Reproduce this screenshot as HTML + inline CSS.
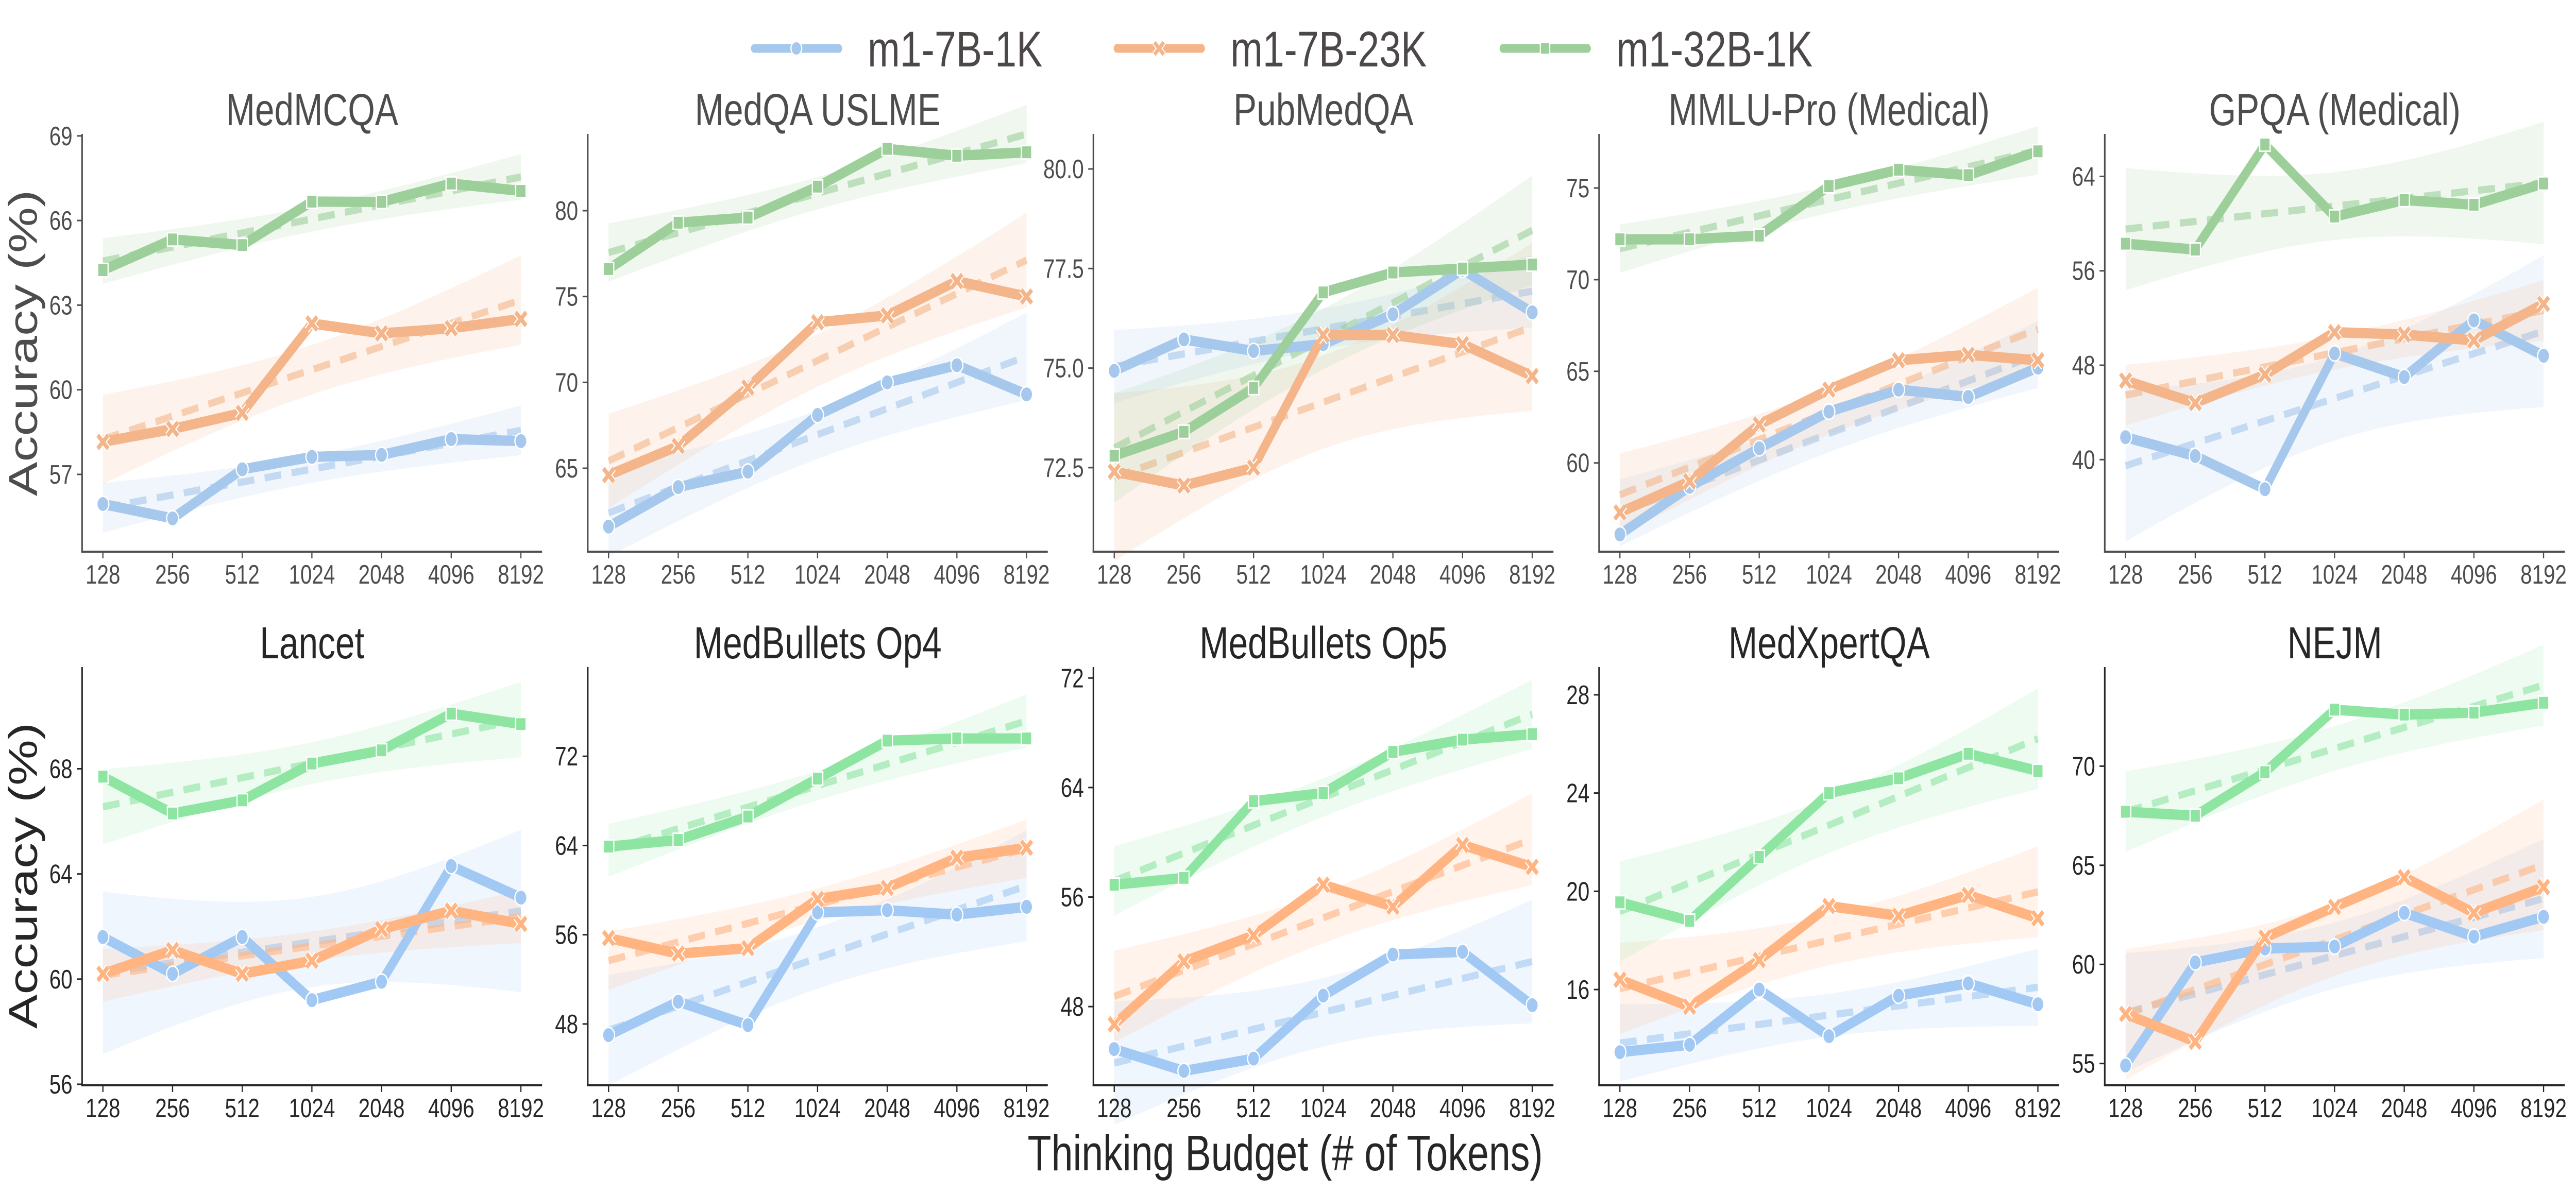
<!DOCTYPE html>
<html><head><meta charset="utf-8"><style>
html,body{margin:0;padding:0;background:#fff;overflow:hidden;width:100%;height:100%;}
svg{display:block;font-family:"Liberation Sans",Arial,sans-serif;width:100vw;height:100vh;}
</style></head><body>
<svg id="chart" xmlns="http://www.w3.org/2000/svg" viewBox="0 0 6434 2318" preserveAspectRatio="none">
<g id="legend"></g>
<g id="panels"></g>
<text x="3210" y="2272" font-size="97" text-anchor="middle" fill="#262626">Thinking Budget (# of Tokens)</text>
<text transform="translate(92,666) rotate(-90)" font-size="100" text-anchor="middle" fill="#4d4d4d">Accuracy (%)</text>
<text transform="translate(92,1700) rotate(-90)" font-size="100" text-anchor="middle" fill="#262626">Accuracy (%)</text>
</svg>
<script>
const budgets = ["128","256","512","1024","2048","4096","8192"];
const seriesNames = ["m1-7B-1K","m1-7B-23K","m1-32B-1K"];
const panelTitles = ["MedMCQA","MedQA USLME","PubMedQA","MMLU-Pro (Medical)","GPQA (Medical)","Lancet","MedBullets Op4","MedBullets Op5","MedXpertQA","NEJM"];
const yTicks = [[57,60,63,66,69],[65,70,75,80],[72.5,75,77.5,80],[60,65,70,75],[40,48,56,64],[56,60,64,68],[48,56,64,72],[48,56,64,72],[16,20,24,28],[55,60,65,70]];
const yTickLabels = [["57","60","63","66","69"],["65","70","75","80"],["72.5","75.0","77.5","80.0"],["60","65","70","75"],["40","48","56","64"],["56","60","64","68"],["48","56","64","72"],["48","56","64","72"],["16","20","24","28"],["55","60","65","70"]];
const yLimits = [[54.26,69.07],[60.14,84.47],[70.39,80.88],[55.16,77.95],[32.2,67.6],[55.96,71.87],[42.5,80],[42.25,72.8],[12.1,29.13],[53.9,75.0]];
const blue7B1K = [
 [55.95,55.44,57.18,57.62,57.69,58.25,58.18],
 [61.6,63.9,64.8,68.1,70.0,71.0,69.3],
 [74.93,75.72,75.43,75.6,76.35,77.47,76.4],
 [56.1,58.7,60.8,62.8,64.0,63.6,65.2],
 [41.9,40.3,37.5,49.0,47.0,51.8,48.8],
 [61.6,60.2,61.6,59.2,59.9,64.3,63.1],
 [47.0,50.0,47.9,58.0,58.2,57.8,58.5],
 [44.9,43.3,44.2,48.8,51.8,52.0,48.1],
 [13.45,13.75,16.0,14.1,15.75,16.25,15.4],
 [54.9,60.1,60.8,60.9,62.6,61.4,62.4]];
const orange7B23K = [
 [58.15,58.61,59.18,62.35,62.0,62.18,62.51],
 [64.6,66.3,69.7,73.5,73.9,75.9,75.0],
 [72.4,72.05,72.5,75.83,75.83,75.6,74.8],
 [57.3,59.0,62.1,64.0,65.6,65.9,65.6],
 [46.7,44.8,47.2,50.8,50.6,50.1,53.2],
 [60.2,61.1,60.2,60.7,61.9,62.6,62.1],
 [55.7,54.3,54.8,59.2,60.2,62.9,63.8],
 [46.7,51.3,53.2,56.9,55.3,59.8,58.2],
 [16.4,15.3,17.2,19.4,19.0,19.85,18.9],
 [57.5,56.1,61.35,62.9,64.4,62.6,63.9]];
const green32B1K = [
 [64.24,65.33,65.13,66.67,66.66,67.31,67.05],
 [76.6,79.3,79.6,81.4,83.6,83.2,83.4],
 [72.8,73.4,74.5,76.9,77.4,77.5,77.6],
 [72.2,72.2,72.4,75.1,76.0,75.7,77.0],
 [58.3,57.8,66.7,60.6,62.0,61.6,63.4],
 [67.7,66.3,66.8,68.2,68.7,70.1,69.7],
 [63.9,64.5,66.6,70.0,73.4,73.6,73.6],
 [56.9,57.4,63.0,63.6,66.6,67.5,67.9],
 [19.55,18.8,21.4,24.0,24.6,25.6,24.9],
 [67.7,67.5,69.7,72.85,72.6,72.7,73.2]];

const NS = "http://www.w3.org/2000/svg";
const colorsTop = ["#a6c8ec","#f5b58a","#9ccf9a"];
const colorsBot = ["#a1c9f4","#ffb482","#8de5a1"];
const markers = ["circle","x","square"];
function mk(tag, attrs, parent){
  const e = document.createElementNS(NS, tag);
  for (const k in attrs) e.setAttribute(k, attrs[k]);
  if (parent) parent.appendChild(e);
  return e;
}
function drawMarker(g, type, x, y, color, scale){
  const s = scale || 1;
  if (type === "circle") {
    const m = mk("circle", {cx:x, cy:y, r:15*s, fill:color, stroke:"#fff", "stroke-width":3}, g);
    
    
  } else if (type === "square") {
    const m = mk("rect", {x:x-13*s, y:y-13*s, width:26*s, height:26*s, fill:color, stroke:"#fff", "stroke-width":3}, g);
    
    
  } else {
    const d = 13*s;
    const p = `M${x-d},${y-d}L${x+d},${y+d}M${x-d},${y+d}L${x+d},${y-d}`;
    const w = mk("path", {d:p, stroke:"#fff", "stroke-width":14*s, fill:"none"}, g);
    
    
    const m = mk("path", {d:p, stroke:color, "stroke-width":9*s, fill:"none"}, g);
    
    
  }
}
const legend = document.getElementById("legend");
const legX = [1884, 2790, 3754];
seriesNames.forEach((nm, i) => {
  const g = mk("g", {}, legend);
  
  
  const l = mk("line", {x1:legX[i], y1:94, x2:legX[i]+211, y2:94, stroke:colorsTop[i], "stroke-width":17, "stroke-linecap":"round"}, g);
  
  
  drawMarker(g, markers[i], legX[i]+105, 94, colorsTop[i], 0.9);
  const t = mk("text", {x:legX[i]+283, y:129, "font-size":97, fill:"#4d4848"}, g);
  t.textContent = nm;
  
  
});

function regress(vals){
  const n = vals.length; const xs = vals.map((_, i) => i);
  const xb = xs.reduce((a,b)=>a+b)/n, yb = vals.reduce((a,b)=>a+b)/n;
  let sxx=0, sxy=0; xs.forEach((x,i)=>{sxx+=(x-xb)**2; sxy+=(x-xb)*(vals[i]-yb);});
  const b = sxy/sxx, a = yb - b*xb;
  let sse=0; xs.forEach((x,i)=>{sse+=(vals[i]-(a+b*x))**2;});
  const se = Math.sqrt(sse/(n-2));
  return {a, b, xb, sxx, se, n};
}

const panelsG = document.getElementById("panels");
for (let p = 0; p < 10; p++) {
  const row = Math.floor(p/5), col = p%5;
  const left = 205 + col*1263, right = left + 1149;
  const top = row ? 1295 : 260, bottom = row ? 2107 : 1071;
  const txtCol = row ? "#262626" : "#4d4d4d";
  const axCol = row ? "#262626" : "#4d4d4d";
  const colors = row ? colorsBot : colorsTop;
  const [y0, y1] = yLimits[p];
  const X = i => left + 52 + i*174;
  const Y = v => bottom - (v - y0)/(y1 - y0)*(bottom - top);
  const g = mk("g", {}, panelsG);
  
  
  const t = mk("text", {x:(left+right)/2, y:top-17, "font-size":87, "text-anchor":"middle", fill:txtCol}, g);
  t.textContent = panelTitles[p];
  
  
  const data = [blue7B1K[p], orange7B23K[p], green32B1K[p]];
  data.forEach((vals, s) => {
    const r = regress(vals);
    const tq = 2.57;
    let up = "", lo = [];
    for (let k = 0; k <= 60; k++) {
      const xi = k*6/60;
      const yh = r.a + r.b*xi;
      const h = tq*r.se*Math.sqrt(1/r.n + (xi-r.xb)**2/r.sxx);
      const px = left + 52 + xi*174;
      up += (k ? "L" : "M") + px.toFixed(1) + "," + Y(yh+h).toFixed(1);
      lo.push(px.toFixed(1) + "," + Y(yh-h).toFixed(1));
    }
    const band = mk("path", {d: up + "L" + lo.reverse().join("L") + "Z", fill:colors[s], "fill-opacity":0.16}, g);
    
    
    const tr = mk("line", {x1:X(0), y1:Y(r.a), x2:X(6), y2:Y(r.a+r.b*6), stroke:colors[s], "stroke-width":14, "stroke-opacity":0.6, "stroke-dasharray":"42 26"}, g);
    
    
  });
  data.forEach((vals, s) => {
    const sg = mk("g", {}, g);
    
    
    const pts = vals.map((v,i) => X(i).toFixed(1) + "," + Y(v).toFixed(1)).join(" ");
    const pl = mk("polyline", {points:pts, fill:"none", stroke:colors[s], "stroke-width":20, "stroke-linejoin":"round"}, sg);
    
    
    vals.forEach((v,i) => drawMarker(sg, markers[s], X(i), Y(v), colors[s], 1));
  });
  const ya = mk("line", {x1:left, y1:top, x2:left, y2:bottom+2, stroke:axCol, "stroke-width":4}, g);
  
  
  const xa = mk("line", {x1:left-2, y1:bottom, x2:right, y2:bottom, stroke:axCol, "stroke-width":4}, g);
  
  
  yTicks[p].forEach((v, k) => {
    const yy = Y(v);
    const tk = mk("line", {x1:left-13, y1:yy, x2:left, y2:yy, stroke:axCol, "stroke-width":3}, g);
    
    
    const tl = mk("text", {x:left-24, y:yy+18, "font-size":52, "text-anchor":"end", fill:txtCol}, g);
    tl.textContent = yTickLabels[p][k];
    
    
  });
  budgets.forEach((b, i) => {
    const tk = mk("line", {x1:X(i), y1:bottom, x2:X(i), y2:bottom+13, stroke:axCol, "stroke-width":3}, g);
    
    
    const tl = mk("text", {x:X(i), y:bottom+62, "font-size":52, "text-anchor":"middle", fill:txtCol}, g);
    tl.textContent = b;
    
    
  });
}
</script>
</body></html>
